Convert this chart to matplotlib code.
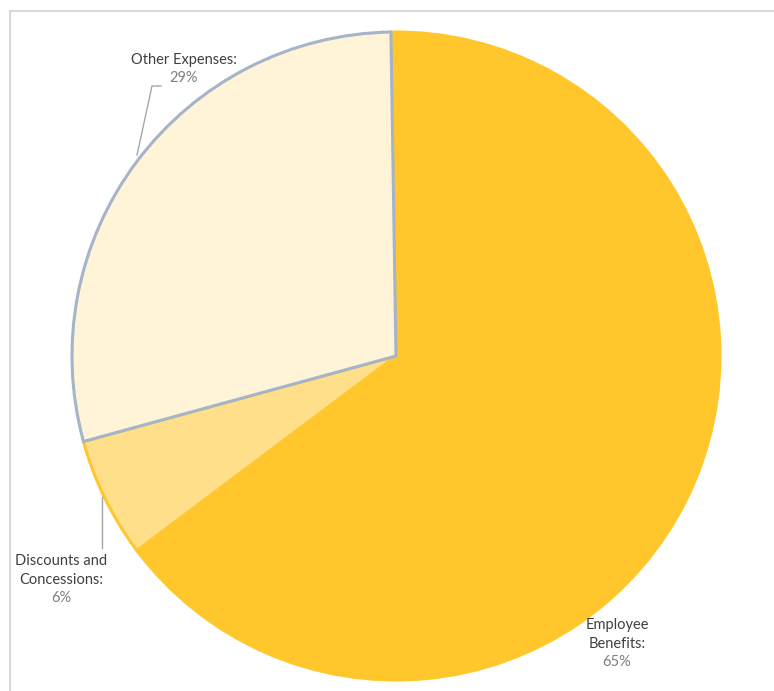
import matplotlib.pyplot as plt

# data
categories = ["Employee Benefits", "Discounts and Concessions", "Other Expenses"]
values = [65, 6, 29]
colors = ["#FFC72C", "#FFDF8A", "#FFF3D8"]
edge_colors = ["#FFC72C", "#FFC72C", "#A5B4C8"]

W, H = 774, 691
fig = plt.figure(figsize=(W / 100, H / 100), dpi=100)
ax = fig.add_axes([0, 0, 1, 1])
ax.set_xlim(0, W)
ax.set_ylim(0, H)
ax.set_aspect("equal")
ax.axis("off")

cx, cy, r = 396, H - 356, 324
wedges, _ = ax.pie(values, colors=colors, startangle=90.9, counterclock=False,
                   center=(cx, cy), radius=r, frame=True,
                   wedgeprops=dict(linewidth=2.2))
for w, ec in zip(wedges, edge_colors):
    w.set_edgecolor(ec)
ax.set_xlim(0, W)
ax.set_ylim(0, H)
ax.axis("off")

# chart border (top + left visible)
ax.plot([10, W], [H - 11, H - 11], color="#D9D9D9", lw=1.5, clip_on=False)
ax.plot([10, 10], [0, H - 11], color="#D9D9D9", lw=1.5, clip_on=False)

FONT = "Lato"
title_c = "#404040"
pct_c = "#7F7F7F"
fs = 10.5

# labels: (name lines, x, y of first line)
label_pos = {
    "Employee Benefits": (["Employee", "Benefits:"], 617, 625),
    "Discounts and Concessions": (["Discounts and", "Concessions:"], 61, 561),
    "Other Expenses": (["Other Expenses:"], 184, 60),
}
line_h = 19
for name, v in zip(categories, values):
    lines, x, y = label_pos[name]
    for i, ln in enumerate(lines):
        ax.text(x, H - (y + i * line_h), ln, ha="center", va="center",
                fontsize=fs, color=title_c, family=FONT)
    ax.text(x, H - (y + len(lines) * line_h - 1), f"{v}%", ha="center", va="center",
            fontsize=fs, color=pct_c, family=FONT)

# leader lines
ax.plot([137, 152, 161], [H - 155, H - 86, H - 86], color="#A6A6A6", lw=1)
ax.plot([102, 102], [H - 497, H - 548], color="#A6A6A6", lw=1)

fig.savefig("out.png", dpi=100, facecolor="white")
